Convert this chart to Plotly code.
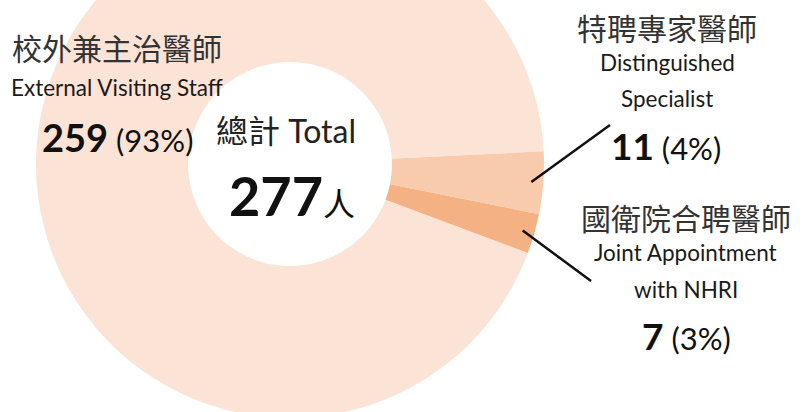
import math
import plotly.graph_objects as go

# ---------------- data ----------------
names_zh = ["校外兼主治醫師", "特聘專家醫師", "國衛院合聘醫師"]
names_en = [["External Visiting Staff"], ["Distinguished", "Specialist"], ["Joint Appointment", "with NHRI"]]
counts = [259, 11, 7]
percents = [93, 4, 3]
colors = ["#FBE3D6", "#F8CBAD", "#F4B183"]
total_zh = "總計"
total_en = "Total"
unit = "人"

# ---------------- layout helpers (pixel geometry) ----------------
W, HF, SHIFT = 808, 540, 100          # figure is taller than the window; shifted up by SHIFT
CX, CY, R = 290, 164, 254             # donut centre / radius in window pixels
HOLE = 102 / 254
ROT = 110.5                            # start angle (deg, clockwise from 12 o'clock)

def px(x):
    return x / W

def py(y):
    return (HF - (y + SHIFT)) / HF

LAT = "Lato, 'Noto Sans CJK TC', sans-serif"
CJK = "'Noto Sans CJK TC', sans-serif"

fig = go.Figure(go.Pie(
    values=counts,
    labels=names_zh,
    sort=False,
    direction="clockwise",
    rotation=ROT,
    hole=HOLE,
    marker=dict(colors=colors, line=dict(width=0)),
    textinfo="none",
    hoverinfo="label+value+percent",
    showlegend=False,
    domain=dict(x=[px(CX - R), px(CX + R)], y=[py(CY + R), py(CY - R)]),
))

ann = []
def add(text, x, y, size, family=LAT, color="#1a1a1a"):
    ann.append(dict(text=text, x=px(x), y=py(y), xref="paper", yref="paper",
                    xanchor="center", yanchor="middle", showarrow=False,
                    font=dict(size=size, family=family, color=color)))

def count_label(i):
    return (f"<b><span style='font-size:{38 if i == 0 else 37}px'>{counts[i]}</span></b>"
            f" <span style='font-size:31px'>({percents[i]}%)</span>")

EN = 22.5
ZH = 30

# left label (big slice)
add(names_zh[0], 117, 47, ZH, CJK, "#333333")
add(names_en[0][0], 117, 88, EN)
add(count_label(0), 118, 137, 31, LAT, "#111111")

# right top label
add(names_zh[1], 667, 27, ZH, CJK, "#333333")
add(names_en[1][0], 667, 63, EN)
add(names_en[1][1], 667, 98, EN)
add(count_label(1), 666, 145, 31, LAT, "#111111")

# right bottom label
add(names_zh[2], 686, 217, ZH, CJK, "#333333")
add(names_en[2][0], 685, 252, EN)
add(names_en[2][1], 686, 289, EN)
add(count_label(2), 686, 336, 31, LAT, "#111111")

# centre total
add(f"<span style='font-family:{CJK}'>{total_zh}</span> {total_en}", 286, 130, 32, LAT, "#222222")
add(f"<b><span style='font-size:54px'>{sum(counts)}</span></b><span style='font-size:32px;font-family:{CJK}'>{unit}</span>",
    292, 195, 32, LAT, "#111111")

# leader lines from slice mid-angles
shapes = []
tot = sum(counts)
start = ROT
mids = []
for v in counts:
    a = start + 360 * v / tot
    mids.append((start + a) / 2)
    start = a
ends = {1: (610, 125), 2: (591, 281)}
for i in (1, 2):
    ang = math.radians(mids[i])
    r0 = R - 12
    x0 = CX + r0 * math.sin(ang)
    y0 = CY - r0 * math.cos(ang)
    x1, y1 = ends[i]
    shapes.append(dict(type="line", xref="paper", yref="paper",
                       x0=px(x0), y0=py(y0), x1=px(x1), y1=py(y1),
                       line=dict(color="#111111", width=2.5)))

fig.update_layout(
    width=W, height=HF,
    margin=dict(l=0, r=0, t=0, b=0),
    paper_bgcolor="white", plot_bgcolor="white",
    annotations=ann, shapes=shapes,
)

post = ("document.body.style.margin='0';document.body.style.overflow='hidden';"
        "var g=document.getElementById('{plot_id}');g.style.position='absolute';"
        "g.style.left='0px';g.style.top='-" + str(SHIFT) + "px';")
fig.write_html("out.html", post_script=post)
